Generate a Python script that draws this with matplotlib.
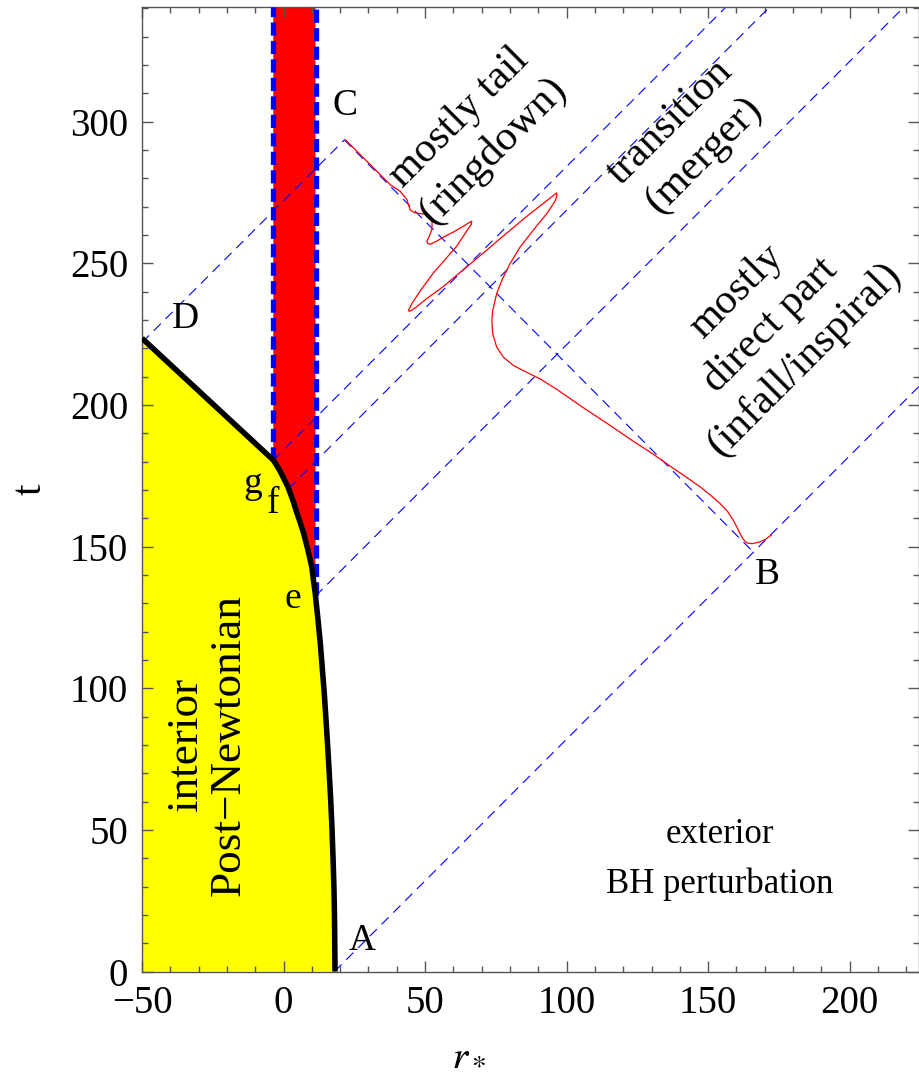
import matplotlib
matplotlib.use("Agg")
import matplotlib.pyplot as plt
import numpy as np

plt.rcParams['font.family'] = ['Liberation Serif', 'DejaVu Serif']
plt.rcParams['mathtext.fontset'] = 'stix'

# ---------------- data ----------------
# particle trajectory r*(t) (black curve), from A up to D
traj_r = [18.2, 18.1, 18.0, 17.8, 17.5, 17.1, 16.6, 15.9, 15.2, 14.4, 13.7, 13.0, 12.2, 11.2,
          10.6, 10.0, 8.7, 7.1, 5.9, 4.5, 3.5, 2.4, 1.5, 0.6, -0.3, -1.0, -2.3, -3.6, -50.0]
traj_t = [0.0, 10.0, 20.0, 30.0, 40.0, 51.0, 62.0, 74.6, 86.0, 98.2, 107.0, 115.8, 124.0, 133.5,
          138.0, 142.7, 148.5, 154.7, 158.5, 162.5, 165.8, 168.8, 171.2, 173.0, 174.8, 176.2,
          178.5, 180.5, 223.5]

# vertical strip (red) edges
strip_left = -3.6
strip_right = 11.3
strip_left_t0 = 180.5
strip_right_t0 = 133.0

# corner points of the null-ray diamond
A = (18.0, 0.0)
B = (166.0, 148.0)
C = (21.5, 293.5)
D = (-50.0, 222.0)

# extra outgoing rays (start points on trajectory)
ray_starts_r = [-3.6, 1.8, 11.3]
ray_starts_t = [180.5, 170.5, 132.5]

# waveform (red curve) drawn along C-B
wave_x = [21.8, 29.4, 37.7, 41.2, 43.6, 44.7, 46.0, 48.2, 50.5, 51.8, 52.5, 52.4, 51.5, 50.6,
          51.0, 51.8, 54.0, 56.5, 60.0, 63.5, 65.5, 66.5, 66.3, 65.3, 63.5, 61.2, 57.0, 52.9,
          48.5, 45.5, 44.1, 44.6, 46.5, 51.0, 56.5, 63.5, 70.6, 78.0, 85.9, 91.5, 95.0, 96.5,
          96.6, 96.0, 93.0, 88.2, 83.6, 80.0, 77.1, 75.3, 73.9, 73.6, 73.9, 75.3, 77.7, 81.2,
          85.9, 90.6, 96.5, 105.9, 115.0, 123.5, 130.0, 137.7, 143.0, 147.1, 151.0, 154.1,
          156.8, 158.8, 160.2, 161.2, 162.3, 163.6, 165.5, 168.3, 170.5, 172.4]
wave_t = [293.6, 286.0, 277.7, 275.4, 272.4, 268.9, 267.9, 267.5, 267.2, 266.5, 264.5, 262.0,
          259.5, 257.7, 256.9, 256.7, 257.7, 259.2, 261.0, 263.0, 264.3, 264.8, 263.6, 262.2,
          259.5, 256.0, 251.2, 246.5, 240.5, 236.0, 233.3, 233.0, 234.2, 237.8, 241.8, 247.7,
          253.6, 259.9, 266.5, 270.9, 273.6, 274.8, 274.0, 272.0, 267.5, 261.6, 255.7, 249.8,
          243.9, 239.2, 233.3, 229.8, 225.1, 220.4, 216.8, 213.9, 211.5, 209.2, 205.5, 199.0,
          193.0, 187.2, 183.0, 177.6, 174.0, 171.1, 168.0, 165.3, 162.5, 159.4, 156.8, 154.7,
          152.7, 151.3, 151.0, 151.6, 152.7, 154.1]

xlim = (-50, 224.5)
ylim = (0, 340.4)
xticks = [-50, 0, 50, 100, 150, 200]
yticks = [0, 50, 100, 150, 200, 250, 300]

# ---------------- figure ----------------
fig = plt.figure(figsize=(9.19, 10.82), dpi=100)
ax = fig.add_axes([0.1545, 0.1021, 0.8455, 0.8914])
ax.set_xlim(*xlim)
ax.set_ylim(*ylim)

tr = np.array(traj_r)
tt = np.array(traj_t)

# yellow interior
yx = np.concatenate([[xlim[0]], tr, [xlim[0]]])
yy = np.concatenate([[0.0], tt, [tt[-1]]])
ax.fill(yx, yy, color='#ffff00', lw=0, zorder=1)

# red strip above trajectory between strip edges
mask = (tt >= strip_right_t0 - 0.6) & (tt <= strip_left_t0)
seg_r = tr[mask][::-1]
seg_t = tt[mask][::-1]
rx = np.concatenate([[strip_left, strip_left], seg_r, [strip_right, strip_right]])
ry = np.concatenate([[ylim[1], strip_left_t0], seg_t, [strip_right_t0, ylim[1]]])
ax.fill(rx, ry, color='#ff0000', lw=0, zorder=1)

# thick blue dashed strip edges
thick = dict(color='#0000ff', lw=3.8, ls=(0, (2.5, 1.0)), zorder=3, solid_capstyle='butt')
ax.plot([strip_left, strip_left], [strip_left_t0, ylim[1]], **thick)
ax.plot([strip_right, strip_right], [strip_right_t0, ylim[1]], **thick)

# black trajectory
ax.plot(tr, tt, color='black', lw=4.0, zorder=4, solid_capstyle='butt')

# thin blue dashed null rays
dash = dict(color='#0000ff', lw=0.8, ls=(0, (9, 6)), zorder=2)
end_A = xlim[1]
ax.plot([A[0], end_A], [A[1], A[1] + end_A - A[0]], **dash)
ax.plot([D[0], C[0]], [D[1], C[1]], **dash)
ax.plot([C[0], B[0]], [C[1], B[1]], **dash)
for r0, t0 in zip(ray_starts_r, ray_starts_t):
    c = t0 - r0
    x_end = min(xlim[1], ylim[1] - c)
    ax.plot([r0, x_end], [t0, x_end + c], **dash)

# waveform
ax.plot(wave_x, wave_t, color='#ff0000', lw=0.9, zorder=5)

# ---------------- labels ----------------
fs = 27
ax.text(21.8, 305.5, 'C', fontsize=fs, ha='center', va='center', zorder=6)
ax.text(-34.5, 230.5, 'D', fontsize=fs, ha='center', va='center', zorder=6)
ax.text(171.0, 140.0, 'B', fontsize=fs, ha='center', va='center', zorder=6)
ax.text(27.8, 11.0, 'A', fontsize=fs, ha='center', va='center', zorder=6)
ax.text(3.4, 131.5, 'e', fontsize=fs, ha='center', va='center', zorder=6)
ax.text(-10.7, 172.3, 'g', fontsize=fs, ha='center', va='center', zorder=6)
ax.text(-3.6, 165.0, 'f', fontsize=fs, ha='center', va='center', zorder=6)

ax.text(-27.0, 80.0, 'interior\nPost\u2212Newtonian', fontsize=32.5, rotation=90,
        ha='center', va='center', multialignment='center', linespacing=1.1, zorder=6)
ax.text(154.0, 39.5, 'exterior\nBH perturbation', fontsize=25,
        ha='center', va='center', multialignment='center', linespacing=1.65, zorder=6)
rot = dict(fontsize=30.5, rotation=45, rotation_mode='anchor', ha='center', va='center',
           multialignment='center', linespacing=1.3, zorder=6)
ax.text(68.0, 295.5, 'mostly tail\n(ringdown)', **rot)
ax.text(142.5, 293.9, 'transition\n(merger)', **rot)
ax.text(172.0, 228.0, 'mostly\ndirect part\n(infall/inspiral)', **rot)

# ---------------- axes styling ----------------
ax.set_xticks(xticks)
ax.set_yticks(yticks)
ax.set_xticklabels([f'{v}'.replace('-', '\u2212') for v in xticks])
ax.set_xticks(np.arange(-50, 225, 10), minor=True)
ax.set_yticks(np.arange(0, 341, 10), minor=True)
ax.tick_params(which='both', direction='in', top=True, right=True, color='#555555',
               labelsize=28, width=1.0)
ax.tick_params(which='major', length=8, pad=10)
ax.tick_params(which='minor', length=4)
for s in ax.spines.values():
    s.set_color('#555555')
    s.set_linewidth(1.0)

ax.set_xlabel(r'$r_*$', fontsize=30)
ax.xaxis.label.set_va('center')
ax.xaxis.set_label_coords(0.42, -0.086)
ax.set_ylabel('t', fontsize=30)
ax.yaxis.label.set_va('center')
ax.yaxis.set_label_coords(-0.144, 0.5)

fig.savefig('out.png', dpi=100)
